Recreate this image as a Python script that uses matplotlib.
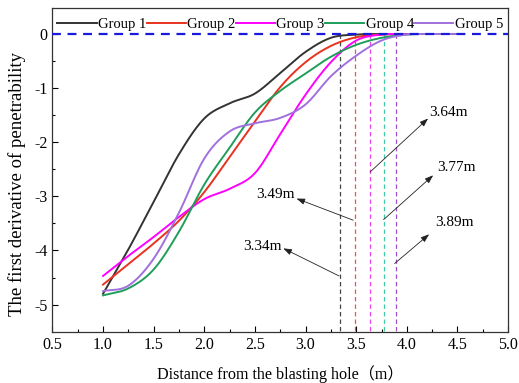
import matplotlib
matplotlib.use("Agg")
import matplotlib.pyplot as plt
import numpy as np

plt.rcParams['font.family'] = ['Liberation Serif', 'Noto Sans CJK SC']

x = [1.0, 1.25, 1.5, 1.75, 2.0, 2.25, 2.5, 2.75, 3.0, 3.25, 3.5, 3.75, 4.0, 4.25, 4.5]
g1 = [-4.80, -3.98, -3.10, -2.22, -1.56, -1.28, -1.10, -0.72, -0.33, -0.07, -0.01, 0.0, 0.0, 0.0, 0.0]
g2 = [-4.63, -4.25, -3.87, -3.45, -2.92, -2.27, -1.62, -0.98, -0.52, -0.22, -0.06, -0.01, 0.0, 0.0, 0.0]
g3 = [-4.47, -4.10, -3.75, -3.38, -3.05, -2.86, -2.57, -1.85, -1.12, -0.52, -0.12, -0.01, 0.0, 0.0, 0.0]
g4 = [-4.83, -4.70, -4.35, -3.65, -2.78, -2.10, -1.45, -1.05, -0.73, -0.42, -0.20, -0.07, -0.01, 0.0, 0.0]
g5 = [-4.75, -4.65, -4.15, -3.30, -2.30, -1.80, -1.65, -1.55, -1.30, -0.78, -0.40, -0.12, -0.01, 0.0, 0.0]
labels = ['Group 1', 'Group 2', 'Group 3', 'Group 4', 'Group 5']
colors = ['#333333', '#e8321e', '#ff00ff', '#1e9e5a', '#a070dd']
vcolors = ['#444444', '#f05050', '#ee44ee', '#40c8a8', '#9a50c8']
vlines = [3.34, 3.49, 3.64, 3.77, 3.89]
vtexts = ['3.34m', '3.49m', '3.64m', '3.77m', '3.89m']
# annotation geometry: tail on line, arrow head, text position, alignment
tails = [(3.33, -4.47), (3.47, -3.44), (3.637, -2.55), (3.77, -3.43), (3.88, -4.24)]
heads = [(2.78, -3.96), (2.91, -3.04), (4.21, -1.56), (4.26, -2.61), (4.22, -3.70)]
tpos = [(2.76, -3.92), (2.89, -2.97), (4.22, -1.45), (4.30, -2.47), (4.28, -3.48)]
thal = ['right', 'right', 'left', 'left', 'left']

def smooth(xs, ys):
    xs = np.asarray(xs); ys = np.asarray(ys)
    out_x, out_y = [], []
    P = np.column_stack([xs, ys])
    P = np.vstack([P[0] * 2 - P[1], P, P[-1] * 2 - P[-2]])
    for i in range(1, len(P) - 2):
        p0, p1, p2, p3 = P[i - 1], P[i], P[i + 1], P[i + 2]
        t = np.linspace(0, 1, 20, endpoint=False)[:, None]
        c = 0.5 * ((2 * p1) + (-p0 + p2) * t + (2 * p0 - 5 * p1 + 4 * p2 - p3) * t ** 2
                   + (-p0 + 3 * p1 - 3 * p2 + p3) * t ** 3)
        out_x.extend(c[:, 0]); out_y.extend(c[:, 1])
    out_x.append(xs[-1]); out_y.append(ys[-1])
    return np.array(out_x), np.minimum(np.array(out_y), 0.0)

fig = plt.figure(figsize=(5.19, 3.83), dpi=100)
ax = fig.add_axes([0.101, 0.134, 0.878, 0.845])

for ys, lab, c in zip([g1, g2, g3, g4, g5], labels, colors):
    sx, sy = smooth(x, ys)
    ax.plot(sx, sy, color=c, lw=1.4, label=lab, zorder=3)

ax.axhline(0, color='#1a1adc', lw=1.6, ls=(0, (4, 3)), zorder=4)
for v, c in zip(vlines, vcolors):
    ax.plot([v, v], [0, -5.5], color=c, lw=0.9, ls=(0, (3.5, 2.5)), zorder=2)

for t, h, p, ha, s in zip(tails, heads, tpos, thal, vtexts):
    ax.annotate('', xy=h, xytext=t,
                arrowprops=dict(arrowstyle='-|>,head_length=0.5,head_width=0.18',
                                color='#222222', lw=0.6, shrinkA=0, shrinkB=0))
    ax.text(p[0], p[1], s, ha=ha, va='center', fontsize=11)

ax.set_xlim(0.5, 5.0)
ax.set_ylim(-5.5, 0.48)
ax.set_xticks(np.arange(0.5, 5.01, 0.5))
ax.set_xticks(np.arange(0.75, 5.0, 0.5), minor=True)
ax.set_yticks([0, -1, -2, -3, -4, -5])
ax.set_yticks([-0.5, -1.5, -2.5, -3.5, -4.5], minor=True)
ax.set_xticklabels([f'{v:.1f}' for v in np.arange(0.5, 5.01, 0.5)])
ax.set_yticklabels(['0', '-1', '-2', '-3', '-4', '-5'])
ax.tick_params(direction='in', which='both', labelsize=11.5, top=False, right=False)
ax.tick_params(which='major', length=4, width=0.8)
ax.tick_params(which='minor', length=2.5, width=0.8)
for sp in ax.spines.values():
    sp.set_color('#333333'); sp.set_linewidth(0.9)

ax.set_xlabel('Distance from the blasting hole（m）', fontsize=11.6, labelpad=9)
ax.set_ylabel('The first derivative of penetrability', fontsize=13.5)
ax.yaxis.set_label_coords(-0.058, 0.455)

ax.legend(loc='upper center', ncol=5, frameon=False, fontsize=10.5,
          handlelength=2.7, handletextpad=0.1, columnspacing=0.0,
          borderaxespad=0.3, bbox_to_anchor=(0.5, 1.0))

fig.savefig('out.png', dpi=100)
